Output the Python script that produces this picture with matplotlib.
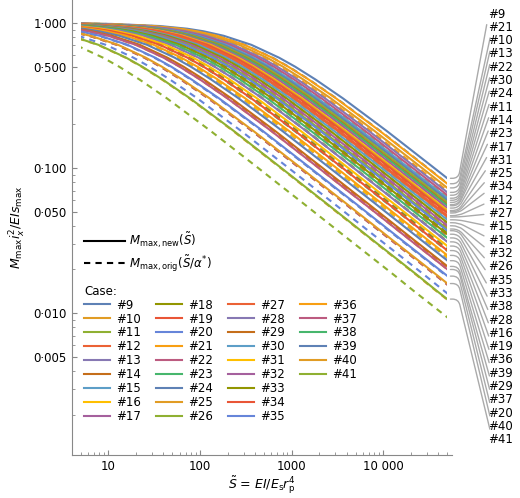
import numpy as np
import matplotlib.pyplot as plt
from matplotlib.lines import Line2D
from matplotlib.patches import Rectangle

# shared normalised curve shape: u = S/S0 -> M
shape_u = [0.003, 0.01, 0.03, 0.1, 0.2, 0.3, 0.5, 1, 2, 3, 5, 10, 20, 30, 50, 100,
           200, 300, 500, 1000, 2000, 3000, 5000, 10000, 20000]
shape_m = [0.9985, 0.995, 0.985, 0.953, 0.913, 0.877, 0.816, 0.707, 0.577, 0.500,
           0.408, 0.302, 0.218, 0.180, 0.140, 0.0995, 0.0705, 0.0577, 0.0447,
           0.0316, 0.0224, 0.0183, 0.0141, 0.0100, 0.00707]

# cases in label order (top to bottom) and their end values at S = 50 000
label_order = [9, 21, 10, 13, 22, 30, 24, 11, 14, 23, 17, 31, 25, 34, 12, 27, 15,
               18, 32, 26, 35, 33, 38, 28, 16, 19, 36, 39, 29, 37, 20, 40, 41]
end_vals = [0.085, 0.078, 0.073, 0.068, 0.065, 0.062, 0.060, 0.058, 0.056, 0.055,
            0.053, 0.051, 0.050, 0.049, 0.047, 0.046, 0.044, 0.042, 0.040, 0.038,
            0.037, 0.035, 0.033, 0.031, 0.029, 0.027, 0.025, 0.023, 0.021, 0.020,
            0.018, 0.016, 0.0125]
alphas = [0.85, 0.80, 0.75, 0.70, 0.82, 0.65, 0.78, 0.60, 0.72, 0.68, 0.62, 0.75,
          0.58, 0.66, 0.70, 0.55, 0.64, 0.72, 0.60, 0.68, 0.57, 0.62, 0.66, 0.60,
          0.70, 0.58, 0.64, 0.60, 0.56, 0.62, 0.58, 0.60, 0.56]
s_min, s_max = 5, 50000

palette = ['#5E81B5', '#E19C24', '#8FB032', '#EB6235', '#8778B3', '#C56E1A',
           '#5D9EC7', '#FFBF00', '#A5609D', '#929600', '#E95536', '#6685D9',
           '#F89F13', '#BC5B80', '#47B66D']

fig = plt.figure(figsize=(5.2, 4.98), dpi=100)
ax = fig.add_axes([0.138, 0.086, 0.731, 0.914])
ax.set_xscale('log')
ax.set_yscale('log')
ax.set_xlim(4, 56000)
ax.set_ylim(0.00105, 1.44)

clip = Rectangle((s_min, 1e-5), s_max - s_min, 10, transform=ax.transData)
u = np.array(shape_u)
m = np.array(shape_m)
ends = {}
handles = {}
for case, yend, a in zip(label_order, end_vals, alphas):
    s0 = s_max / (yend ** -2 - 1)
    col = palette[(case - 9) % 15]
    l1, = ax.plot(u * s0, m, color=col, lw=1.5)
    l2, = ax.plot(u * s0 * a, m, color=col, lw=1.5, ls=(0, (3, 2.5)))
    l1.set_clip_path(clip)
    l2.set_clip_path(clip)
    ends[case] = yend
    handles[case] = Line2D([], [], color=col, lw=1.5)

# right-hand labels with connectors
for i, case in enumerate(label_order):
    ty = 1 - (14 + i * 13.3) / 455
    ax.annotate('#%d' % case, xy=(s_max * 1.08, ends[case]), xycoords='data',
                xytext=(1.095, ty), textcoords='axes fraction', va='center',
                fontsize=8.5, annotation_clip=False,
                arrowprops=dict(arrowstyle='-', color='#aaaaaa', lw=1,
                                shrinkA=1, shrinkB=0,
                                connectionstyle='arc,angleA=180,angleB=0,armA=8,armB=8,rad=6'))

for sp in ['top', 'right']:
    ax.spines[sp].set_visible(False)
for sp in ['left', 'bottom']:
    ax.spines[sp].set_color('#888888')
ax.tick_params(which='both', direction='in', colors='#888888', labelcolor='black',
               labelsize=8.5)
ax.set_xticks([10, 100, 1000, 10000])
ax.set_xticklabels(['10', '100', '1000', '10 000'])
ax.set_yticks([0.005, 0.01, 0.05, 0.1, 0.5, 1])
ax.set_yticklabels(['0·005', '0·010', '0·050', '0·100', '0·500', '1·000'])
ax.set_xlabel(r'$\tilde{S}$ = $EI/E_\mathrm{s}r_\mathrm{p}^4$', fontsize=9, labelpad=1)
ax.set_ylabel(r'$M_{\mathrm{max}}i_x^2/EIs_{\mathrm{max}}$', fontsize=9)

style = [Line2D([], [], color='black', lw=1.5),
         Line2D([], [], color='black', lw=1.5, ls=(0, (3, 2.5)))]
leg1 = ax.legend(style, [r'$M_{\mathrm{max,new}}(\tilde{S})$',
                         r'$M_{\mathrm{max,orig}}(\tilde{S}/\alpha^{*})$'],
                 loc='upper left', bbox_to_anchor=(0.02, 0.505), frameon=False,
                 fontsize=8.5, handlelength=3.5, handletextpad=0.3, labelspacing=0.3,
                 borderaxespad=0)
ax.add_artist(leg1)
cases = sorted(label_order)
blank = Line2D([], [], alpha=0)
h = [handles[c] for c in cases] + [blank] * 3
lab = ['#%d' % c for c in cases] + [''] * 3
leg2 = ax.legend(h, lab, ncol=4,
                 loc='upper left', bbox_to_anchor=(0.02, 0.385), frameon=False,
                 title='Case:', alignment='left', fontsize=8.5, title_fontsize=8.5,
                 handlelength=2.2, handletextpad=0.5, columnspacing=1.3,
                 labelspacing=0.08, borderaxespad=0)

fig.savefig('out.png', dpi=100)
